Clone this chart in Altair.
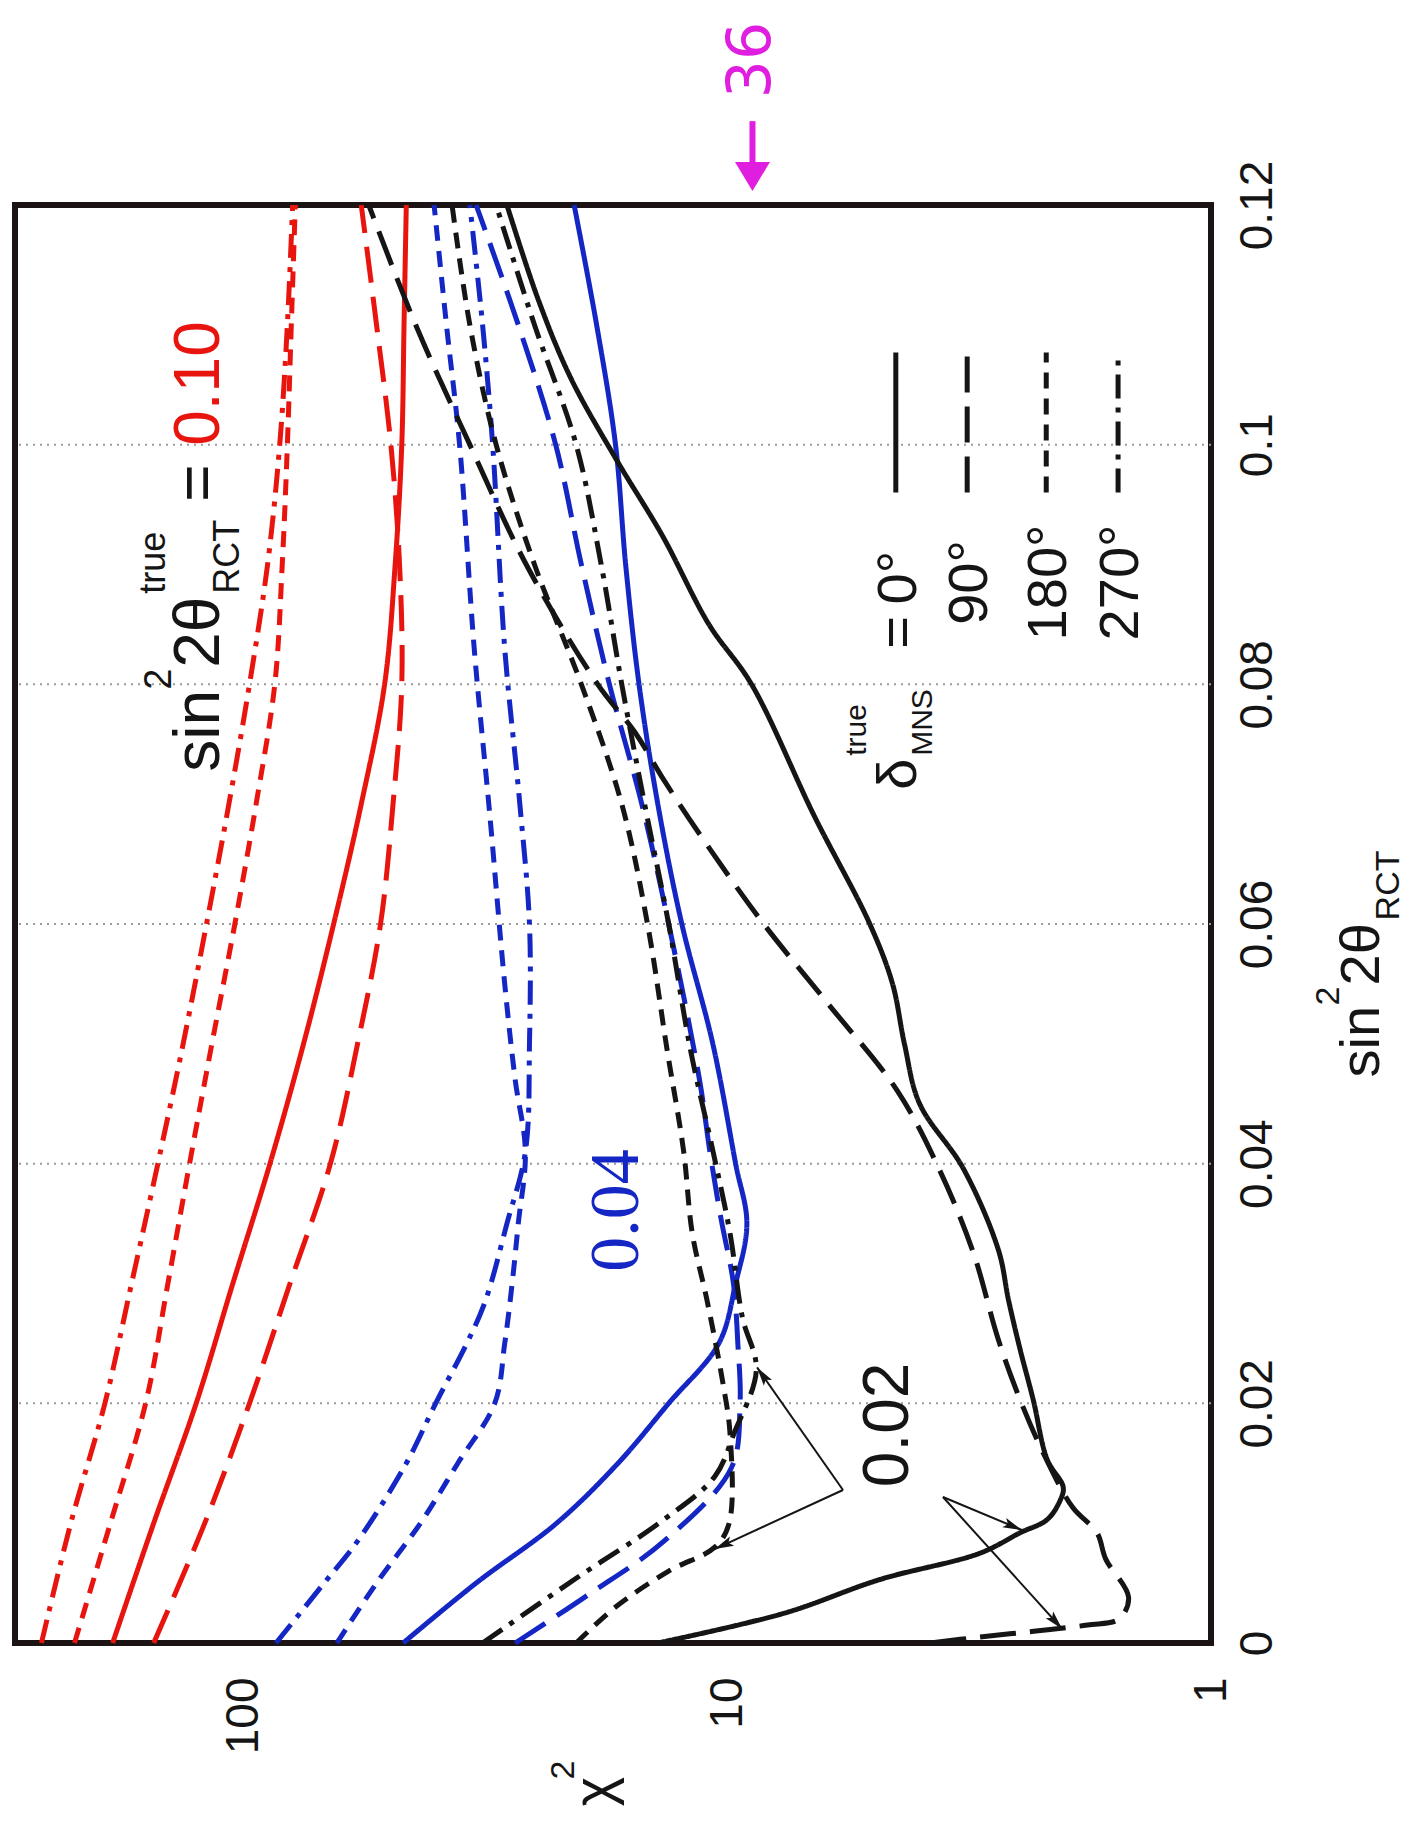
import math
import altair as alt
import pandas as pd

# ---------------- axes ----------------
S_MAX = 0.12                  # sin^2 2theta_RCT range
CHI_LO, CHI_HI = 1.0, 296.0   # chi^2 range (log scale, drawn reversed)
W, H = 1196, 1438

s_ticks = [0, 0.02, 0.04, 0.06, 0.08, 0.1, 0.12]
s_grid = [0.02, 0.04, 0.06, 0.08, 0.1]
chi_ticks = [1, 10, 100]

RED, BLUE, BLACK = "#e8150f", "#1426c4", "#151515"
MAGENTA = "#e01ee0"
SANS, SERIF = "Liberation Sans", "Liberation Serif"

deltas = ["0", "90", "180", "270"]
dash_styles = [[1, 0], [36, 14], [16, 10], [24, 9, 5, 9]]

# ---------------- curves ----------------
# true sin^2 2theta_RCT = 0.10
s_red = [0, 0.01, 0.02, 0.03, 0.04, 0.05, 0.06, 0.07, 0.08, 0.09, 0.10, 0.11, 0.12]
chi_red_0 = [186, 153, 125, 105, 88, 75, 65, 57, 51, 48.5, 47, 46.5, 46]
chi_red_90 = [153, 120, 97, 80, 66, 58, 52, 49, 47, 47.5, 49.5, 53, 57]
chi_red_180 = [223, 188, 159, 143, 129, 116, 104, 94, 86, 83, 81, 79.5, 78]
chi_red_270 = [261, 227, 193, 170, 150, 133, 119, 107, 97, 89, 84, 81, 79]

# true sin^2 2theta_RCT = 0.04
s_blue_0 = [0, 0.005, 0.01, 0.015, 0.02, 0.025, 0.03, 0.035, 0.04, 0.05, 0.06, 0.07, 0.08, 0.09, 0.1, 0.11, 0.12]
chi_blue_0 = [46.7, 33, 22.5, 16.8, 13.2, 10.4, 9.6, 9.1, 9.6, 10.7, 12.4, 13.9, 15.2, 16.2, 17, 18.6, 20.7]
s_blue_90 = [0, 0.004, 0.0085, 0.0146, 0.02, 0.025, 0.03, 0.0355, 0.041, 0.047, 0.06, 0.07, 0.08, 0.09, 0.1, 0.11, 0.12]
chi_blue_90 = [27.4, 19.4, 13.5, 9.8, 9.4, 9.5, 9.7, 10.3, 10.85, 11.4, 13.2, 15, 17.5, 20, 22.6, 27, 33]
s_blue_180 = [0, 0.005, 0.01, 0.015, 0.02, 0.025, 0.03, 0.035, 0.041, 0.047, 0.055, 0.069, 0.083, 0.1, 0.11, 0.12]
chi_blue_180 = [64, 53, 43, 36, 30.2, 28.8, 27.8, 27, 26.1, 27.4, 28.8, 30.9, 33.3, 35.7, 38, 40.3]
s_blue_270 = [0, 0.005, 0.0085, 0.015, 0.02, 0.025, 0.0285, 0.035, 0.041, 0.05, 0.06, 0.07, 0.083, 0.1, 0.11, 0.12]
chi_blue_270 = [85.5, 68, 58, 46, 40, 34.5, 31.6, 28.5, 26.1, 25.6, 25.6, 26.8, 28.8, 30.5, 32, 34]

# true sin^2 2theta_RCT = 0.02
s_black_0 = [0, 0.0025, 0.0053, 0.0075, 0.0092, 0.0103, 0.0119, 0.013, 0.0153, 0.0203, 0.0245, 0.0286,
             0.0328, 0.0396, 0.045, 0.05, 0.055, 0.06, 0.069, 0.08, 0.085, 0.0924, 0.0987, 0.1055, 0.112, 0.12]
chi_black_0 = [13.9, 7.6, 4.83, 3.0, 2.48, 2.18, 2.05, 2.02, 2.18, 2.33, 2.48, 2.62,
               2.75, 3.25, 4.0, 4.3, 4.55, 5.07, 6.6, 8.9, 10.9, 13.6, 16.9, 21, 24.5, 28.5]
s_black_90 = [0, 0.0005, 0.001, 0.0015, 0.002, 0.0038, 0.007, 0.0092, 0.0113, 0.0155, 0.0203, 0.0253, 0.0326,
              0.0396, 0.0461, 0.0534, 0.06, 0.0666, 0.072, 0.076, 0.08, 0.09, 0.1, 0.11, 0.12]
chi_black_90 = [3.8, 3.0, 2.3, 1.8, 1.55, 1.48, 1.65, 1.72, 1.93, 2.2, 2.48, 2.75, 3.1,
                3.65, 4.45, 6.2, 8.4, 11, 13.5, 15.5, 18.5, 26, 34, 44, 55]
s_black_180 = [0, 0.003, 0.006, 0.008, 0.01, 0.0175, 0.0217, 0.0286, 0.0342, 0.0411, 0.0495, 0.06, 0.07,
               0.08, 0.09, 0.1, 0.11, 0.12]
chi_black_180 = [20.5, 17, 13.2, 10.6, 9.9, 9.86, 10.2, 11, 11.8, 12.3, 13.3, 14.6, 16.5, 20, 25, 30, 34, 37]
s_black_270 = [0, 0.0054, 0.0103, 0.0139, 0.0176, 0.0228, 0.0272, 0.0342, 0.0411, 0.0495, 0.06, 0.07, 0.08,
               0.09, 0.1, 0.11, 0.12]
chi_black_270 = [32, 20.5, 13.5, 10.6, 9.65, 8.7, 9.3, 9.86, 10.7, 11.9, 13.2, 14.8, 16.5, 18.2, 20.5, 25, 30]

curves = [
    ("red", "0", s_red, chi_red_0), ("red", "90", s_red, chi_red_90),
    ("red", "180", s_red, chi_red_180), ("red", "270", s_red, chi_red_270),
    ("blue", "0", s_blue_0, chi_blue_0), ("blue", "90", s_blue_90, chi_blue_90),
    ("blue", "180", s_blue_180, chi_blue_180), ("blue", "270", s_blue_270, chi_blue_270),
    ("black", "0", s_black_0, chi_black_0), ("black", "90", s_black_90, chi_black_90),
    ("black", "180", s_black_180, chi_black_180), ("black", "270", s_black_270, chi_black_270),
]

rows = []
for grp, d, ss, cc in curves:
    for i, (sv, cv) in enumerate(zip(ss, cc)):
        rows.append({"curve": f"{grp}-{d}", "grp": grp, "delta": d, "idx": i, "s": sv, "chi2": cv})
curve_df = pd.DataFrame(rows)

# ---------------- shared scales and axes ----------------
xs = alt.Scale(type="log", domain=[CHI_LO, CHI_HI], reverse=True, nice=False)
ys = alt.Scale(domain=[0, S_MAX], nice=False, zero=False)
color_scale = alt.Scale(domain=["red", "blue", "black"], range=[RED, BLUE, BLACK])
dash_scale = alt.Scale(domain=deltas, range=dash_styles)

x_axis = alt.Axis(values=chi_ticks, format="d", orient="bottom", labelAngle=270, labelAlign="right",
                  labelBaseline="middle", labelPadding=34, labelFontSize=46, labelFont=SANS,
                  labelColor=BLACK, ticks=False, domain=False, grid=False, title=None,
                  labelFlush=False, labelOverlap=False, labelBound=False)
y_axis = alt.Axis(values=s_ticks, format=".2~f", orient="right", labelAngle=270, labelAlign="center",
                  labelBaseline="top", labelPadding=24, labelFontSize=46, labelFont=SANS,
                  labelColor=BLACK, ticks=False, domain=False, grid=False, title=None,
                  labelFlush=False, labelOverlap=False)

X = alt.X("chi2:Q", scale=xs, axis=x_axis)
Y = alt.Y("s:Q", scale=ys, axis=y_axis)


def px(s, chi2):
    x = W * (1 - math.log10(chi2) / math.log10(CHI_HI))
    y = H * (1 - s / S_MAX)
    return x, y


def to_data(x, y):
    return S_MAX * (1 - y / H), 10 ** ((1 - x / W) * math.log10(CHI_HI))


# dotted grid across the plot at the inner sin^2 ticks
grid = alt.Chart(pd.DataFrame({"s": s_grid})).mark_rule(
    strokeDash=[2, 5], color="#9a9a9a", strokeWidth=2).encode(y=Y)

lines = alt.Chart(curve_df).mark_line(strokeWidth=5, clip=False, interpolate="catmull-rom").encode(
    x=X, y=Y,
    color=alt.Color("grp:N", scale=color_scale, legend=None),
    strokeDash=alt.StrokeDash("delta:N", scale=dash_scale, legend=None),
    detail="curve:N",
    order="idx:Q",
)

# ---------------- legend samples ----------------
leg_chi = [4.48, 3.19, 2.19, 1.556]
leg_df = pd.DataFrame({"delta": deltas, "chi2": leg_chi, "s": [0.0960] * 4, "s_end": [0.1077] * 4})
legend_lines = alt.Chart(leg_df).mark_rule(strokeWidth=5, color=BLACK).encode(
    x=X, y=Y, y2="s_end:Q", strokeDash=alt.StrokeDash("delta:N", scale=dash_scale, legend=None))


# ---------------- text ----------------
def text(txt, s, chi2, size, color=BLACK, font=SANS, align="left", dx=0, dy=0):
    df = pd.DataFrame({"s": [s], "chi2": [chi2], "t": [txt]})
    return alt.Chart(df).mark_text(angle=270, align=align, baseline="alphabetic", font=font,
                                   fontSize=size, color=color, dx=dx, dy=dy).encode(x=X, y=Y, text="t:N")


texts = [
    # sin^2 2theta^true_RCT = 0.10
    text("sin", 0.0727, 112, 64),
    text("2", 0.0727, 112, 38, dx=82, dy=-48),
    text("2θ", 0.0727, 112, 64, dx=104),
    text("true", 0.0727, 112, 36, dx=178, dy=-54),
    text("RCT", 0.0727, 112, 36, dx=178, dy=20),
    text("=", 0.0727, 112, 64, dx=270),
    text("0.10", 0.0727, 112, 64, color=RED, dx=326),
    # delta^true_MNS = 0, 90, 180, 270 deg
    text("δ", 0.0712, 4.07, 56),
    text("true", 0.0712, 4.07, 30, dx=34, dy=-50),
    text("MNS", 0.0712, 4.07, 30, dx=34, dy=16),
    text("=", 0.0712, 4.07, 56, dx=141),
    text("0°", 0.0889, 4.07, 56, align="center"),
    text("90°", 0.0885, 2.90, 56, align="center"),
    text("180°", 0.0885, 1.993, 56, align="center"),
    text("270°", 0.0885, 1.415, 56, align="center"),
    # curve group labels
    text("0.04", 0.0361, 15.3, 70, color=BLUE, font=SERIF, align="center"),
    text("0.02", 0.0182, 4.23, 64, align="center"),
    # axis titles
    text("χ", -0.0124, 17.3, 56, align="center"),
    text("2", -0.0124, 17.3, 34, dx=12, dy=-38),
    text("sin", 0.0472, 0.4497, 56),
    text("2", 0.0472, 0.4497, 34, dx=72, dy=-40),
    text("2θ", 0.0472, 0.4497, 56, dx=92),
    text("RCT", 0.0472, 0.4497, 34, dx=157, dy=20),
    # handwritten note
    text("36", 0.1321, 8.15, 60, color=MAGENTA, font="DejaVu Sans", align="center"),
]

# ---------------- arrows pointing from the 0.02 label ----------------
arrow_from = [(0.01277, 5.76), (0.01277, 5.76), (0.01218, 3.58), (0.01218, 3.58)]
arrow_to = [(0.0230, 8.67), (0.00784, 10.6), (0.00943, 2.46), (0.00117, 2.03)]

HEAD_R = 10
arr_rows, head_rows = [], []
for (s0, c0), (s1, c1) in zip(arrow_from, arrow_to):
    x0, y0 = px(s0, c0)
    x1, y1 = px(s1, c1)
    L = math.hypot(x1 - x0, y1 - y0)
    ux, uy = (x1 - x0) / L, (y1 - y0) / L
    ang = math.degrees(math.atan2(ux, -uy)) % 360
    hs, hc = to_data(x1 - ux * HEAD_R, y1 - uy * HEAD_R)
    arr_rows.append({"s": s0, "chi2": c0, "s_end": s1, "chi2_end": c1})
    head_rows.append({"s": hs, "chi2": hc, "ang": ang})

arrow_lines = alt.Chart(pd.DataFrame(arr_rows)).mark_rule(strokeWidth=2, color=BLACK).encode(
    x=X, y=Y, x2="chi2_end:Q", y2="s_end:Q")
ARROW_PATH = "M0,-1L0.5,0.9L0,0.5L-0.5,0.9Z"
arrow_heads = alt.Chart(pd.DataFrame(head_rows)).mark_point(
    shape=ARROW_PATH, filled=True, size=(2 * HEAD_R) ** 2, color=BLACK, opacity=1, strokeWidth=0
).encode(x=X, y=Y, angle=alt.Angle("ang:Q", scale=None))

# handwritten arrow above the frame
note_df = pd.DataFrame({"s": [0.1270], "chi2": [8.86], "s_end": [0.1230]})
note_shaft = alt.Chart(note_df).mark_rule(strokeWidth=6, color=MAGENTA).encode(x=X, y=Y, y2="s_end:Q")
note_head = alt.Chart(pd.DataFrame({"s": [0.12242], "chi2": [8.86]})).mark_point(
    shape="M-1,-0.8L1,-0.8L0,0.85Z", filled=True, size=1225, color=MAGENTA, opacity=1, strokeWidth=0
).encode(x=X, y=Y)

chart = alt.layer(
    grid, lines, legend_lines, arrow_lines, arrow_heads, note_shaft, note_head, *texts
).properties(
    width=W, height=H,
    padding={"left": 15, "top": 205, "right": 208, "bottom": 178},
    autosize=alt.AutoSizeParams(type="none"),
).configure(
    background="#ffffff"
).configure_view(
    stroke="#1c1414", strokeWidth=6
)

chart.save("out.html", embed_options={"renderer": "svg", "actions": False})
